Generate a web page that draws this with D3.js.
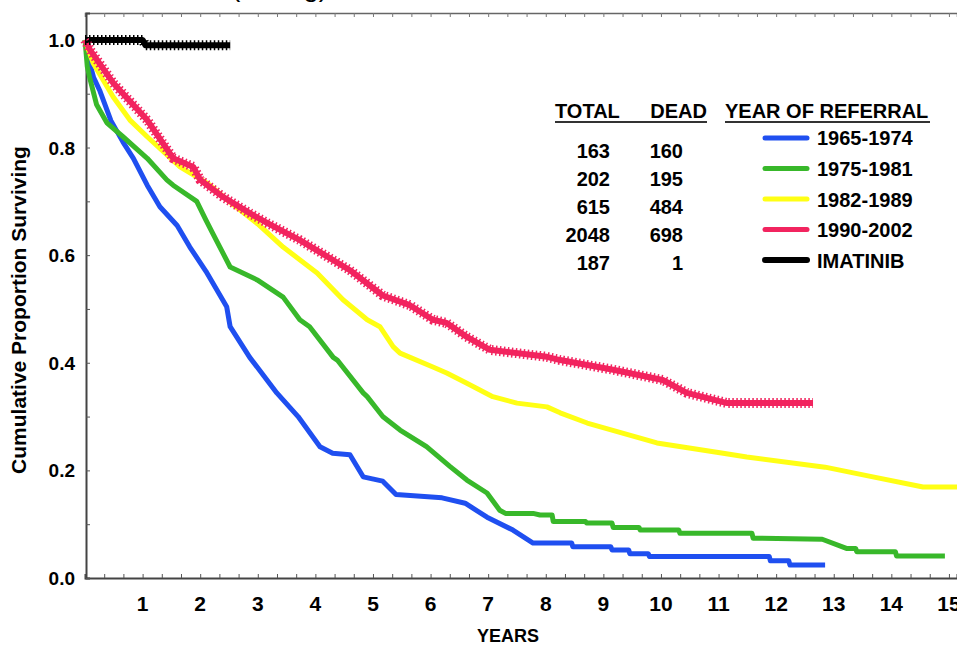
<!DOCTYPE html>
<html>
<head>
<meta charset="utf-8">
<script src="https://cdn.jsdelivr.net/npm/d3@7"></script>
<style>
  body { margin: 0; background: #fff; }
  text { font-family: Arial, "Liberation Sans", sans-serif; }
</style>
</head>
<body>
<script>
// Data: [years, cumulative proportion surviving]
var groups = ['1965-1974', '1975-1981', '1982-1989', '1990-2002', 'IMATINIB'];
var totals = [163, 202, 615, 2048, 187];
var deaths = [160, 195, 484, 698, 1];
var colors = ['#1f4ff0', '#38b82a', '#ffff14', '#f2245f', '#000000'];

var blue = [[0,1.0],[0.05,0.97],[0.15,0.93],[0.26,0.905],[0.45,0.85],[0.66,0.81],[0.84,0.78],[1.08,0.73],[1.3,0.69],
  [1.6,0.655],[1.82,0.615],[2.1,0.57],[2.46,0.504],[2.52,0.467],[2.86,0.41],[3.33,0.344],[3.7,0.30],[4.08,0.244],
  [4.3,0.232],[4.6,0.229],[4.83,0.188],[5.17,0.18],[5.4,0.155],[6.2,0.149],[6.6,0.139],[6.98,0.113],[7.43,0.089],
  [7.78,0.065],[8.45,0.065],[8.47,0.058],[9.13,0.058],[9.15,0.052],[9.44,0.052],[9.46,0.045],[9.78,0.045],[9.8,0.04],
  [11.88,0.04],[11.9,0.032],[12.22,0.032],[12.24,0.024],[12.85,0.024]];

var green = [[0,1.0],[0.04,0.95],[0.09,0.926],[0.2,0.88],[0.38,0.846],[0.66,0.82],[1.08,0.78],[1.42,0.74],[1.53,0.73],
  [1.94,0.70],[2.1,0.665],[2.22,0.64],[2.52,0.578],[2.99,0.554],[3.44,0.522],[3.73,0.48],[3.9,0.467],[4.31,0.41],
  [4.38,0.405],[4.83,0.344],[4.9,0.337],[5.17,0.30],[5.47,0.275],[5.93,0.244],[6.34,0.207],[6.63,0.182],[6.98,0.158],
  [7.2,0.126],[7.3,0.12],[7.78,0.12],[7.9,0.117],[8.11,0.117],[8.13,0.105],[8.69,0.105],[8.71,0.102],[9.15,0.102],
  [9.17,0.094],[9.62,0.094],[9.64,0.089],[10.31,0.089],[10.33,0.083],[11.58,0.083],[11.6,0.074],[12.8,0.072],
  [13.22,0.055],[13.38,0.055],[13.4,0.049],[14.07,0.049],[14.09,0.041],[14.93,0.041]];

var yellow = [[0,1.0],[0.14,0.957],[0.49,0.894],[0.78,0.851],[1.08,0.82],[1.65,0.764],[2.12,0.734],[2.5,0.70],
  [3.0,0.658],[3.44,0.615],[4.03,0.567],[4.48,0.517],[4.9,0.48],[5.12,0.467],[5.35,0.43],[5.47,0.418],[6.04,0.392],
  [6.28,0.381],[6.63,0.362],[7.08,0.337],[7.5,0.325],[8.02,0.318],[8.25,0.307],[8.72,0.288],[9.93,0.251],[11.08,0.232],
  [11.49,0.225],[12.85,0.206],[13.68,0.188],[14.55,0.169],[15.14,0.169]];

var red = [[0,1.0],[0.09,0.981],[0.49,0.92],[1.08,0.851],[1.53,0.78],[1.88,0.764],[2.0,0.74],[2.4,0.708],[2.86,0.678],
  [3.16,0.66],[3.73,0.628],[4.6,0.572],[5.17,0.525],[5.64,0.507],[6.04,0.48],[6.28,0.474],[6.63,0.448],[7.03,0.424],
  [8.02,0.411],[8.25,0.405],[9.17,0.387],[10.03,0.368],[10.45,0.344],[11.15,0.325],[12.64,0.325]];

var imatinib = [[0,1.0],[1.0,1.0],[1.05,0.99],[2.52,0.99]];

var curves = [blue, green, yellow, red, imatinib];
var xLabels = d3.range(1, 16);
var yLabels = [0, 0.2, 0.4, 0.6, 0.8, 1.0];

// frame
var svg = d3.select('body')
            .append('svg')
            .attr('width', 957)
            .attr('height', 645)
            .style('display', 'block');

var x = d3.scaleLinear().domain([0, 15.14]).range([85, 957]);
var y = d3.scaleLinear().domain([0, 1.05]).range([578, 13]);

// cut-off title at the very top
svg.append('text')
   .attr('x', 231).attr('y', -4)
   .style('font-size', '28px')
   .text('(Young)');

// inward minor ticks on every side
svg.append('g')
   .attr('transform', 'translate(0,578)')
   .call(d3.axisBottom(x).tickValues(d3.range(0, 46).map(function (d) { return d / 3; }))
         .tickSize(-4).tickFormat(''))
   .call(function (g) { g.select('.domain').attr('stroke', '#444').attr('stroke-width', 2); })
   .selectAll('line').attr('stroke', '#555');

svg.append('g')
   .attr('transform', 'translate(0,13)')
   .call(d3.axisTop(x).tickValues(d3.range(0, 46).map(function (d) { return d / 3; }))
         .tickSize(-4).tickFormat(''))
   .call(function (g) { g.select('.domain').attr('stroke', '#666').attr('stroke-width', 1.5); })
   .selectAll('line').attr('stroke', '#777');

svg.append('g')
   .attr('transform', 'translate(86,0)')
   .call(d3.axisLeft(y).tickValues(d3.range(0, 11).map(function (d) { return d / 10; }))
         .tickSize(-4).tickFormat(''))
   .call(function (g) { g.select('.domain').attr('stroke', '#444').attr('stroke-width', 2); })
   .selectAll('line').attr('stroke', '#555');

// tick labels
svg.append('g')
   .selectAll('text')
   .data(xLabels)
   .enter()
   .append('text')
   .attr('x', function (d) { return x(d); })
   .attr('y', 611)
   .attr('text-anchor', 'middle')
   .style('font-size', '21px')
   .style('font-weight', 'bold')
   .text(function (d) { return d; });

svg.append('g')
   .selectAll('text')
   .data(yLabels)
   .enter()
   .append('text')
   .attr('x', 75)
   .attr('y', function (d) { return y(d) + 7; })
   .attr('text-anchor', 'end')
   .style('font-size', '19px')
   .style('font-weight', 'bold')
   .text(function (d) { return d.toFixed(1); });

// axis titles
svg.append('text')
   .attr('x', 508).attr('y', 642)
   .attr('text-anchor', 'middle')
   .style('font-size', '18px')
   .style('font-weight', 'bold')
   .text('YEARS');

svg.append('text')
   .attr('transform', 'translate(26,310) rotate(-90)')
   .attr('text-anchor', 'middle')
   .style('font-size', '21px')
   .style('font-weight', 'bold')
   .text('Cumulative Proportion Surviving');

// survival curves
var line = d3.line()
             .x(function (d) { return x(d[0]); })
             .y(function (d) { return y(d[1]); });

svg.append('g')
   .selectAll('path')
   .data(curves)
   .enter()
   .append('path')
   .attr('d', line)
   .attr('fill', 'none')
   .attr('stroke', function (d, i) { return colors[i]; })
   .attr('stroke-width', function (d, i) { return i >= 3 ? 6 : 5; })
   .attr('stroke-linejoin', 'round');

// censor marks on the 1990-2002 and imatinib curves
svg.append('g')
   .selectAll('path')
   .data([red, imatinib])
   .enter()
   .append('path')
   .attr('d', line)
   .attr('fill', 'none')
   .attr('stroke', function (d, i) { return i === 0 ? colors[3] : colors[4]; })
   .attr('stroke-width', 10)
   .attr('stroke-dasharray', '1.5 2.5');

// legend table
var legend = svg.append('g').style('font-weight', 'bold').style('font-size', '20px');

legend.append('text').attr('x', 555).attr('y', 118).text('TOTAL');
legend.append('text').attr('x', 707).attr('y', 118).attr('text-anchor', 'end').text('DEAD');
legend.append('text').attr('x', 725).attr('y', 118).text('YEAR OF REFERRAL');
legend.append('line').attr('x1', 555).attr('x2', 707).attr('y1', 122).attr('y2', 122)
      .attr('stroke', '#333').attr('stroke-width', 2);
legend.append('line').attr('x1', 725).attr('x2', 930).attr('y1', 122).attr('y2', 122)
      .attr('stroke', '#333').attr('stroke-width', 2);

var rows = legend.selectAll('g.row')
                 .data(groups)
                 .enter()
                 .append('g')
                 .attr('class', 'row');

rows.append('text')
    .attr('x', 610)
    .attr('y', function (d, i) { return 158 + i * 28; })
    .attr('text-anchor', 'end')
    .text(function (d, i) { return totals[i]; });

rows.append('text')
    .attr('x', 683)
    .attr('y', function (d, i) { return 158 + i * 28; })
    .attr('text-anchor', 'end')
    .text(function (d, i) { return deaths[i]; });

rows.append('line')
    .attr('x1', 765).attr('x2', 807)
    .attr('y1', function (d, i) { return 138 + i * 30.5; })
    .attr('y2', function (d, i) { return 138 + i * 30.5; })
    .attr('stroke', function (d, i) { return colors[i]; })
    .attr('stroke-width', function (d, i) { return i === 4 ? 6 : 5; })
    .attr('stroke-linecap', 'round');

rows.append('text')
    .attr('x', 817)
    .attr('y', function (d, i) { return 145 + i * 30.8; })
    .text(function (d) { return d; });
</script>
</body>
</html>
